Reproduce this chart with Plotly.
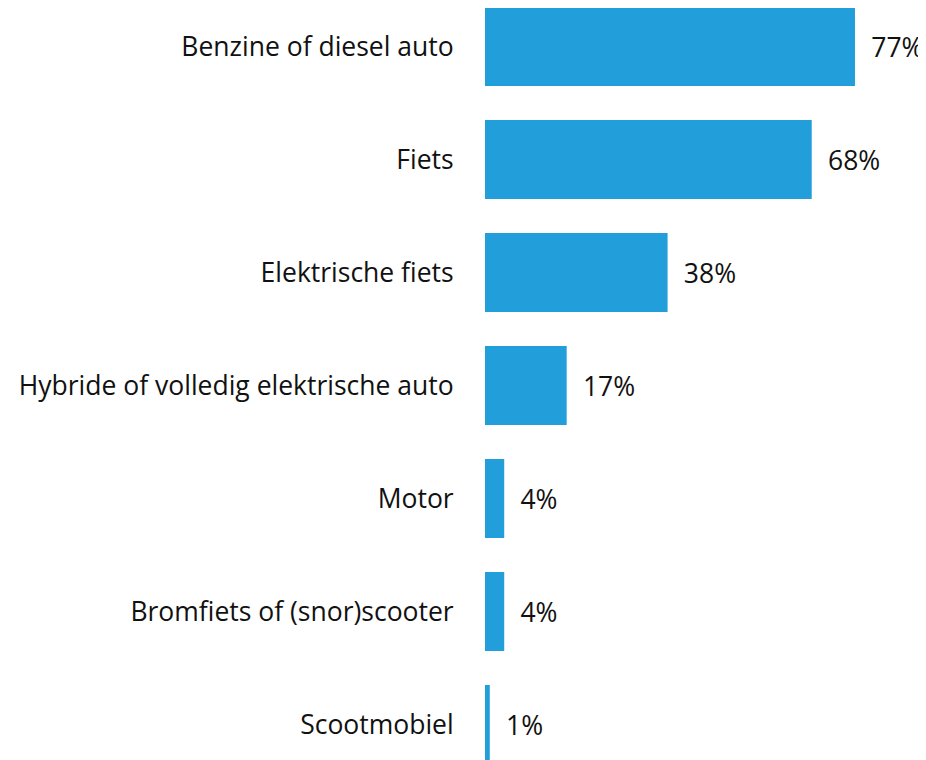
import plotly.graph_objects as go

categories = ["Benzine of diesel auto", "Fiets", "Elektrische fiets",
              "Hybride of volledig elektrische auto", "Motor",
              "Bromfiets of (snor)scooter", "Scootmobiel"]
values = [77, 68, 38, 17, 4, 4, 1]
labels = ["77%", "68%", "38%", "17%", "4%", "4%", "1%"]

color = "#229fdb"
font = "Open Sans"
fsize = 26.5

fig = go.Figure(go.Bar(
    x=values, y=categories, orientation="h",
    marker=dict(color=color, line=dict(width=0)),
    hoverinfo="skip", width=0.7,
    text=labels, texttemplate="\u2002%{text}", textposition="outside",
    cliponaxis=False, constraintext="none",
    outsidetextfont=dict(family=font, size=fsize, color="#111111"),
))

fig.update_layout(
    width=918, height=752,
    margin=dict(l=477, r=0, t=0, b=0),
    paper_bgcolor="white", plot_bgcolor="white",
    showlegend=False,
    uniformtext=dict(mode=False),
    font=dict(family=font, size=fsize, color="#111111"),
    xaxis=dict(range=[0, 91.78], visible=False, fixedrange=True),
    yaxis=dict(range=[6.314, -0.3407], showgrid=False, zeroline=False,
               showline=False, ticks="outside", ticklen=25,
               tickcolor="rgba(0,0,0,0)", tickfont=dict(family=font, size=fsize, color="#111111"),
               automargin=False, fixedrange=True),
)

fig.write_html("out.html")
